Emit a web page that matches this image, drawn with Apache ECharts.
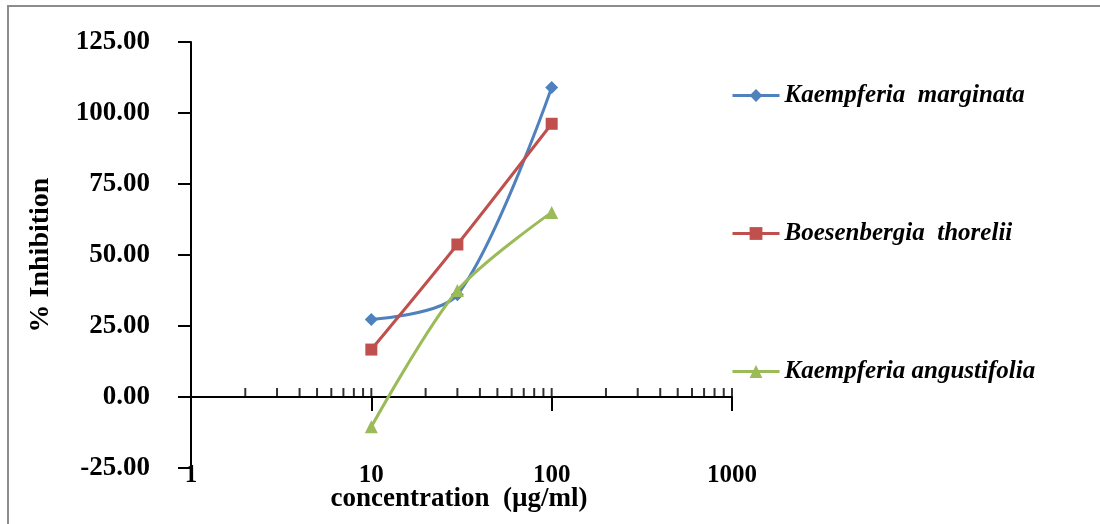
<!DOCTYPE html>
<html>
<head>
<meta charset="utf-8">
<script src="https://cdn.jsdelivr.net/npm/echarts@6/dist/echarts.min.js"></script>
<style>
	html, body { margin: 0; padding: 0; background: #fff; }
	#chartBox { width: 1100px; height: 524px; }
</style>
</head>
<body>
<div id="chartBox"></div>
<script>
// concentrations (µg/ml)
const concentrations = [10, 30, 100];
// % inhibition for each extract
const kMarginata = [27.3, 36.0, 109.0];
const bThorelii = [16.7, 53.7, 96.2];
const kAngustifolia = [-10.5, 37.5, 65.0];
const seriesNames = ['Kaempferia  marginata', 'Boesenbergia  thorelii', 'Kaempferia angustifolia'];
// small tick marks above the x axis line
const upTicks = [2, 3, 4, 5, 6, 7, 8, 9, 10, 20, 30, 40, 50, 60, 70, 80, 90, 100, 200, 300, 400, 500, 600, 700, 800, 900, 1000];

const font = '"Liberation Serif", "Times New Roman", serif';

function pairs(vals) {
	return concentrations.map((c, i) => [c, vals[i]]);
}

let myChart = echarts.init(document.getElementById('chartBox'));
myChart.setOption({
	animation: false,
	grid: { left: 191, right: 368, top: 42, bottom: 56, containLabel: false, outerBoundsMode: 'none' },
	legend: {
		orient: 'vertical',
		left: 726,
		top: 78,
		itemGap: 113,
		itemWidth: 47,
		itemHeight: 16,
		data: seriesNames,
		lineStyle: { width: 3 },
		textStyle: { fontFamily: font, fontSize: 25, fontStyle: 'italic', fontWeight: 'bold', color: '#000', lineHeight: 24 }
	},
	xAxis: [
		{
			type: 'log', logBase: 10, min: 1, max: 1000,
			axisLine: { onZero: true, lineStyle: { color: '#000', width: 2 } },
			axisTick: { show: true, length: 14, lineStyle: { color: '#000', width: 2 } },
			axisLabel: { show: false },
			splitLine: { show: false }
		},
		{
			type: 'log', logBase: 10, min: 1, max: 1000, position: 'bottom',
			axisLine: { show: false, onZero: false },
			axisTick: { show: false },
			axisLabel: { margin: -5, fontFamily: font, fontSize: 25, fontWeight: 'bold', color: '#000', showMinLabel: true, showMaxLabel: true, formatter: v => String(v) },
			splitLine: { show: false }
		}
	],
	yAxis: {
		type: 'value', min: -25, max: 125, interval: 25,
		axisLine: { show: true, onZero: false, lineStyle: { color: '#000', width: 2 } },
		axisTick: { show: true, length: 13, lineStyle: { color: '#000', width: 2 } },
		axisLabel: { margin: 41, fontFamily: font, fontSize: 27, fontWeight: 'bold', color: '#000', formatter: v => v.toFixed(2) },
		splitLine: { show: false },
		name: '% Inhibition',
		nameLocation: 'middle',
		nameGap: 136,
		nameRotate: 90,
		nameTextStyle: { fontFamily: font, fontSize: 28, fontWeight: 'bold', color: '#000' }
	},
	graphic: [
		{
			type: 'rect', silent: true, z: -1,
			shape: { x: 8, y: 6, width: 1110, height: 540 },
			style: { fill: 'none', stroke: '#8c8c8c', lineWidth: 2 }
		},
		{
			type: 'text', x: 459, y: 499,
			style: { text: 'concentration  (µg/ml)', font: 'bold 27px ' + font, fill: '#000', align: 'center', verticalAlign: 'middle' }
		}
	],
	series: [
		{
			name: 'ticks', type: 'scatter', silent: true, z: 1,
			data: upTicks.map(v => [v, 0]),
			symbol: 'rect', symbolSize: [2, 9], symbolOffset: [0, -4.5],
			itemStyle: { color: '#000' }
		},
		{
			name: seriesNames[0], type: 'line', smooth: 0.3, z: 3,
			data: pairs(kMarginata),
			symbol: 'diamond', symbolSize: 13,
			lineStyle: { color: '#4F81BD', width: 3 },
			itemStyle: { color: '#4F81BD' }
		},
		{
			name: seriesNames[1], type: 'line', smooth: 0.3, z: 3,
			data: pairs(bThorelii),
			symbol: 'rect', symbolSize: 12,
			lineStyle: { color: '#C0504D', width: 3 },
			itemStyle: { color: '#C0504D' }
		},
		{
			name: seriesNames[2], type: 'line', smooth: 0.3, z: 3,
			data: pairs(kAngustifolia),
			symbol: 'triangle', symbolSize: 13,
			lineStyle: { color: '#9BBB59', width: 3 },
			itemStyle: { color: '#9BBB59' }
		}
	]
});
</script>
</body>
</html>
